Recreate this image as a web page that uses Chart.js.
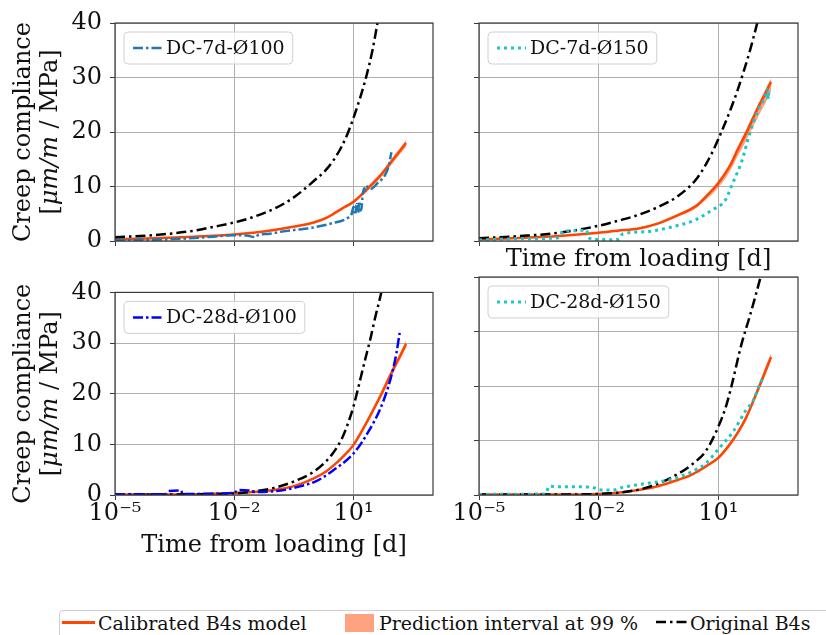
<!DOCTYPE html>
<html>
<head>
<meta charset="utf-8">
<script src="https://cdn.jsdelivr.net/npm/chart.js@4/dist/chart.umd.min.js"></script>
<style>
  body { margin: 0; background: #fff; width: 826px; height: 635px; overflow: hidden; position: relative; font-family: 'DejaVu Serif', serif; }
  canvas { position: absolute; }
  #legend { position: absolute; left: 59px; top: 610px; width: 820px; height: 40px; border: 1px solid #cfcfcf; border-radius: 4px; }
  .lg { position: absolute; font-size: 19px; line-height: 19px; top: 614px; color: #111; white-space: nowrap; }
</style>
</head>
<body>
<canvas id="c1" width="445" height="280" style="left:0;top:0"></canvas>
<canvas id="c2" width="381" height="280" style="left:445px;top:0"></canvas>
<canvas id="c3" width="445" height="300" style="left:0;top:270px"></canvas>
<canvas id="c4" width="381" height="300" style="left:445px;top:270px"></canvas>

<div id="legend"></div>
<div style="position:absolute;left:62px;top:621px;width:33px;height:2.5px;background:#ff4500"></div>
<div class="lg" style="left:98px">Calibrated B4s model</div>
<div style="position:absolute;left:345px;top:614px;width:29px;height:18px;background:rgba(255,69,0,0.5)"></div>
<div class="lg" style="left:379px">Prediction interval at 99 %</div>
<svg style="position:absolute;left:655px;top:614px" width="34" height="16"><line x1="1" y1="8" x2="33" y2="8" stroke="#000" stroke-width="2.5" stroke-dasharray="10,4,2.5,4"/></svg>
<div class="lg" style="left:690px">Original B4s</div>

<script>
// x axis (time from loading, days), log scale
const xTicks = [1e-5, 1e-2, 1e1];
const xTickLabels = ['10\u207B\u2075', '10\u207B\u00B2', '10\u00B9'];
const yTicks = [0, 10, 20, 30, 40];

// calibrated B4s model + 99 % prediction band (common time grid)
const tModel = [1e-5, 1e-4, 1e-3, 1e-2, 3e-2, 0.1, 0.3, 1, 2, 3, 5, 10, 20, 30, 50, 100, 150, 210];

const calib7d100 = [0.3, 0.5, 0.8, 1.2, 1.5, 2.0, 2.6, 3.4, 4.2, 4.9, 5.9, 7.2, 9.2, 10.5, 12.2, 15.0, 16.6, 18.0];
const low7d100   = [0.3, 0.5, 0.8, 1.2, 1.5, 1.9, 2.5, 3.3, 4.0, 4.7, 5.7, 6.9, 8.8, 10.1, 11.7, 14.4, 16.0, 17.3];
const up7d100    = [0.3, 0.5, 0.8, 1.2, 1.5, 2.0, 2.7, 3.5, 4.3, 5.0, 6.1, 7.4, 9.5, 10.9, 12.6, 15.5, 17.1, 18.5];

const calib7d150 = [0.3, 0.55, 0.9, 1.5, 1.9, 2.3, 3.2, 4.8, 5.8, 6.6, 8.2, 10.6, 13.9, 16.6, 19.8, 24.5, 27.0, 29.2];
const low7d150   = [0.3, 0.5, 0.85, 1.4, 1.8, 2.2, 3.0, 4.5, 5.4, 6.2, 7.6, 9.8, 12.9, 15.4, 18.4, 22.8, 25.2, 27.3];
const up7d150    = [0.3, 0.55, 0.95, 1.55, 2.0, 2.45, 3.35, 5.0, 6.0, 6.9, 8.5, 11.0, 14.4, 17.2, 20.4, 25.2, 27.7, 29.8];

const calib28d100 = [0.1, 0.1, 0.15, 0.4, 0.6, 1.0, 1.7, 3.3, 4.6, 5.7, 7.3, 9.9, 13.9, 16.5, 19.9, 24.8, 27.5, 29.8];
const low28d100   = [0.1, 0.1, 0.15, 0.4, 0.6, 1.0, 1.6, 3.2, 4.4, 5.5, 7.0, 9.6, 13.5, 16.0, 19.3, 24.1, 26.8, 29.1];
const up28d100    = [0.1, 0.1, 0.15, 0.4, 0.6, 1.0, 1.8, 3.4, 4.8, 5.9, 7.6, 10.2, 14.3, 17.0, 20.5, 25.5, 28.2, 30.5];

const calib28d150 = [0.1, 0.1, 0.1, 0.2, 0.4, 0.9, 1.6, 2.8, 3.6, 4.3, 5.3, 6.8, 9.4, 11.3, 14.2, 19.4, 22.6, 25.3];
const low28d150   = [0.1, 0.1, 0.1, 0.2, 0.4, 0.9, 1.5, 2.7, 3.5, 4.1, 5.1, 6.5, 9.0, 10.9, 13.7, 18.8, 21.9, 24.6];
const up28d150    = [0.1, 0.1, 0.1, 0.2, 0.4, 0.9, 1.7, 2.9, 3.7, 4.5, 5.5, 7.1, 9.8, 11.7, 14.7, 20.0, 23.3, 26.0];

// original B4s model
const tOrig7d100 = [1e-5, 1e-4, 1e-3, 3e-3, 1e-2, 3e-2, 0.1, 0.3, 1, 2, 3, 5, 7, 10, 15, 21, 30, 40, 60];
const orig7d100  = [0.7, 1.1, 1.9, 2.6, 3.4, 4.4, 5.9, 7.9, 11.0, 13.0, 14.6, 17.3, 19.6, 22.6, 26.5, 30.2, 35, 40, 48];
const tOrig7d150 = [1e-5, 1e-4, 1e-3, 1e-2, 3e-2, 0.1, 0.3, 1, 3, 7, 12, 20, 30, 45, 60, 95, 150];
const orig7d150  = [0.5, 0.9, 1.5, 2.8, 3.7, 4.8, 6.2, 8.3, 11.6, 16.2, 20, 24, 27.5, 31.5, 34.5, 40, 46];
const tOrig28d100 = [1e-5, 1e-4, 1e-3, 1e-2, 3e-2, 0.1, 0.3, 1, 2, 3, 5, 7, 10, 15, 20, 26, 35, 50, 80];
const orig28d100  = [0.1, 0.1, 0.15, 0.3, 0.7, 1.4, 2.6, 4.6, 6.6, 8.2, 11.0, 13.8, 17.5, 23, 27, 30.5, 35, 40, 48];
const tOrig28d150 = [1e-5, 1e-4, 1e-3, 1e-2, 4e-2, 0.15, 0.48, 1, 2.2, 4.9, 10, 16, 22, 38, 60, 80, 120, 200];
const orig28d150  = [0.1, 0.1, 0.1, 0.2, 0.5, 1.3, 2.7, 3.9, 5.6, 8.1, 12.5, 16.5, 20.3, 27.6, 32.5, 35.7, 40.5, 47];

// measured creep compliance
const tMeas7d100 = [1e-5, 3e-5, 1e-4, 3e-4, 1e-3, 3e-3, 1e-2, 2e-2, 3.5e-2, 4e-2, 0.07, 0.15, 0.4, 0.7, 2.7, 7, 9, 10, 11, 12, 13, 14, 15, 16, 17, 18.6, 20, 22, 28, 40, 50, 60, 75, 90];
const meas7d100  = [0.15, 0.2, 0.25, 0.35, 0.55, 0.8, 1.05, 1.0, 0.7, 1.1, 1.3, 1.7, 2.1, 2.3, 3.2, 4.2, 5.0, 6.3, 4.8, 6.8, 5.2, 7.3, 5.6, 6.2, 8.5, 9.7, 9.2, 10.0, 9.6, 10.6, 11.2, 11.9, 13.5, 16.3];
const tMeas7d150 = [1e-5, 1e-4, 1e-3, 1.3e-3, 3e-3, 5e-3, 5.5e-3, 8e-3, 2e-2, 3.2e-2, 4e-2, 0.15, 0.7, 2.7, 7, 15, 23, 40, 60, 100, 150, 170, 180, 185];
const meas7d150  = [0.2, 0.4, 0.6, 1.8, 1.9, 2.0, 0.7, 0.3, 0.25, 0.3, 1.3, 1.7, 2.6, 3.9, 5.7, 7.5, 10.6, 14.9, 19.5, 24, 26.5, 27.8, 26, 28];
const tMeas28d100 = [1e-5, 1e-4, 2e-4, 2.2e-4, 4.6e-4, 5e-4, 3e-3, 1e-2, 1.3e-2, 2.5e-2, 3.2e-2, 0.15, 0.45, 1.2, 3, 10, 21, 55, 98, 120, 145];
const meas28d100  = [0.1, 0.15, 0.2, 0.8, 0.9, 0.2, 0.25, 0.5, 1.0, 0.9, 0.6, 0.9, 1.7, 2.8, 4.8, 8.2, 11.8, 18.3, 24.7, 28, 32];
const tMeas28d150 = [1e-5, 1e-4, 4.7e-4, 5.7e-4, 1e-3, 3e-3, 7e-3, 1e-2, 2.2e-2, 4e-2, 0.15, 0.7, 2.2, 4.9, 10, 23, 49, 76, 105, 135];
const meas28d150  = [0.1, 0.15, 0.2, 1.6, 1.5, 1.5, 1.4, 1.0, 0.9, 1.4, 2.1, 2.9, 4.3, 5.8, 8.4, 11.5, 15.5, 17.4, 20, 21.7];

const calibColor = '#ff4500';
const bandColor = 'rgba(255,69,0,0.5)';
const gridColor = '#b0b0b0';
const frameColor = '#3a3a3a';
const serif = "'DejaVu Serif', serif";

Chart.defaults.font.family = serif;

function pts(t, v) {
  return t.map(function (x, i) { return { x: x, y: v[i] }; });
}

// box around the plot area, plus the small legend inside it
const framePlugin = {
  id: 'frame',
  afterDatasetsDraw: function (chart, args, opts) {
    const a = chart.chartArea, ctx = chart.ctx;
    ctx.save();
    ctx.strokeStyle = frameColor;
    ctx.lineWidth = 1.2;
    ctx.strokeRect(a.left, a.top, a.right - a.left, a.bottom - a.top);

    ctx.font = '19px ' + serif;
    const tw = ctx.measureText(opts.label).width;
    const bx = a.left + 9, by = a.top + 9, bw = 9 + 29 + 4 + tw + 8, bh = 32;
    ctx.beginPath();
    ctx.roundRect(bx, by, bw, bh, 4);
    ctx.fillStyle = 'rgba(255,255,255,0.8)';
    ctx.fill();
    ctx.strokeStyle = '#d0d0d0';
    ctx.lineWidth = 1;
    ctx.stroke();

    ctx.beginPath();
    ctx.setLineDash(opts.dash);
    ctx.strokeStyle = opts.color;
    ctx.lineWidth = opts.width;
    ctx.moveTo(bx + 9, by + bh / 2);
    ctx.lineTo(bx + 38, by + bh / 2);
    ctx.stroke();
    ctx.setLineDash([]);

    ctx.fillStyle = '#111';
    ctx.textAlign = 'left';
    ctx.textBaseline = 'middle';
    ctx.fillText(opts.label, bx + 42, by + bh / 2 + 1);
    ctx.restore();
  }
};

// two-line y title with italic unit part
const yTitlePlugin = {
  id: 'ytitle',
  afterDraw: function (chart, args, opts) {
    if (!opts.show) return;
    const a = chart.chartArea, ctx = chart.ctx;
    const cy = (a.top + a.bottom) / 2;
    ctx.save();
    ctx.fillStyle = '#111';
    ctx.textBaseline = 'middle';
    ctx.translate(24, cy);
    ctx.rotate(-Math.PI / 2);
    ctx.font = '24px ' + serif;
    ctx.textAlign = 'center';
    ctx.fillText('Creep compliance', 0, 0);
    const parts = [['[', ''], ['\u03BCm/m', 'italic '], [' / MPa]', '']];
    let w = 0;
    parts.forEach(function (p) { ctx.font = p[1] + '24px ' + serif; w += ctx.measureText(p[0]).width; });
    let x = -w / 2;
    ctx.textAlign = 'left';
    parts.forEach(function (p) {
      ctx.font = p[1] + '24px ' + serif;
      ctx.fillText(p[0], x, 27);
      x += ctx.measureText(p[0]).width;
    });
    ctx.restore();
  }
};

function panel(id, p) {
  new Chart(document.getElementById(id), {
    type: 'scatter',
    data: {
      datasets: [
        { data: pts(tModel, p.low), showLine: true, borderWidth: 0, pointRadius: 0, fill: false, cubicInterpolationMode: 'monotone', order: 3 },
        { data: pts(tModel, p.up), showLine: true, borderWidth: 0, pointRadius: 0, fill: '-1', backgroundColor: bandColor, cubicInterpolationMode: 'monotone', order: 3 },
        { data: pts(tModel, p.calib), showLine: true, borderColor: calibColor, borderWidth: 2.5, pointRadius: 0, cubicInterpolationMode: 'monotone', order: 2 },
        { data: pts(p.tOrig, p.orig), showLine: true, borderColor: '#000', borderWidth: 2.5, borderDash: [10, 4, 2.5, 4], pointRadius: 0, cubicInterpolationMode: 'monotone', order: 1 },
        { data: pts(p.tMeas, p.meas), showLine: true, borderColor: p.color, borderWidth: p.width, borderDash: p.dash, pointRadius: 0, cubicInterpolationMode: 'monotone', order: 0 }
      ]
    },
    options: {
      responsive: false,
      animation: false,
      layout: { padding: { top: p.padTop, right: p.padRight, left: 0, bottom: 0 } },
      plugins: {
        legend: { display: false },
        tooltip: { enabled: false },
        frame: { label: p.label, color: p.color, dash: p.dash, width: p.width },
        ytitle: { show: p.yLabels }
      },
      scales: {
        x: {
          type: 'logarithmic',
          min: 1e-5,
          max: 1e3,
          border: { display: false },
          grid: { color: gridColor, lineWidth: 1, tickLength: 5, tickColor: frameColor },
          ticks: {
            display: p.xLabels,
            autoSkip: false,
            maxRotation: 0,
            padding: -1,
            color: '#111',
            font: { size: 24 },
            callback: function (v, i) { return xTickLabels[i]; }
          },
          title: {
            display: p.xTitle,
            text: 'Time from loading [d]',
            color: '#111',
            font: { size: 24 },
            padding: { top: 0, bottom: p.titlePad }
          },
          afterBuildTicks: function (s) { s.ticks = xTicks.map(function (v) { return { value: v }; }); },
          afterFit: function (s) { s.height = p.xh; }
        },
        y: {
          min: 0,
          max: 40,
          border: { display: false },
          grid: { color: gridColor, lineWidth: 1, tickLength: 5, tickColor: frameColor },
          ticks: { display: p.yLabels, padding: 8, color: '#111', font: { size: 24 } },
          afterBuildTicks: function (s) { s.ticks = yTicks.map(function (v) { return { value: v }; }); },
          afterFit: function (s) { s.width = p.yw; }
        }
      }
    },
    plugins: [framePlugin, yTitlePlugin]
  });
}

const dashDot = [10, 3, 2.5, 3];
const dotted = [3, 4];

panel('c1', { label: 'DC-7d-\u00D8100', color: '#1f77b4', dash: dashDot, width: 2.5,
  calib: calib7d100, low: low7d100, up: up7d100, tOrig: tOrig7d100, orig: orig7d100, tMeas: tMeas7d100, meas: meas7d100,
  padTop: 23, padRight: 12, yw: 115, xh: 39, xLabels: false, yLabels: true, xTitle: false, titlePad: 0 });
panel('c2', { label: 'DC-7d-\u00D8150', color: '#1cc6c6', dash: dotted, width: 3,
  calib: calib7d150, low: low7d150, up: up7d150, tOrig: tOrig7d150, orig: orig7d150, tMeas: tMeas7d150, meas: meas7d150,
  padTop: 23, padRight: 28, yw: 34, xh: 39, xLabels: false, yLabels: false, xTitle: true, titlePad: 6 });
panel('c3', { label: 'DC-28d-\u00D8100', color: '#0000ff', dash: dashDot, width: 2.5,
  calib: calib28d100, low: low28d100, up: up28d100, tOrig: tOrig28d100, orig: orig28d100, tMeas: tMeas28d100, meas: meas28d100,
  padTop: 7, padRight: 12, yw: 115, xh: 75, xLabels: true, yLabels: true, xTitle: true, titlePad: 10 });
panel('c4', { label: 'DC-28d-\u00D8150', color: '#1cc6c6', dash: dotted, width: 3,
  calib: calib28d150, low: low28d150, up: up28d150, tOrig: tOrig28d150, orig: orig28d150, tMeas: tMeas28d150, meas: meas28d150,
  padTop: 7, padRight: 28, yw: 34, xh: 75, xLabels: true, yLabels: false, xTitle: false, titlePad: 0 });
</script>
</body>
</html>
